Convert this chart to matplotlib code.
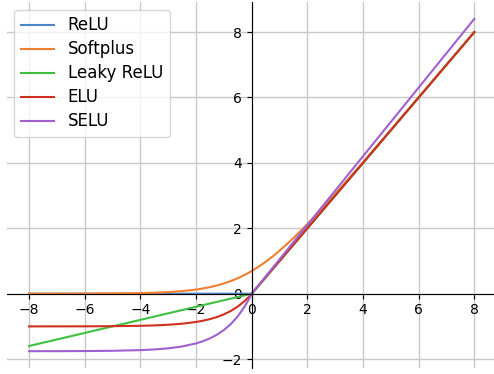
import matplotlib
matplotlib.use("Agg")
import matplotlib.pyplot as plt

# sample points
x = [-8, -7, -6, -5, -4, -3.5, -3, -2.5, -2, -1.75, -1.5, -1.25, -1, -0.75, -0.5, -0.25, -0.1, 0,
     0.25, 0.5, 0.75, 1, 1.5, 2, 2.5, 3, 4, 5, 6, 7, 8]

relu = [0, 0, 0, 0, 0, 0, 0, 0, 0, 0, 0, 0, 0, 0, 0, 0, 0, 0,
        0.25, 0.5, 0.75, 1, 1.5, 2, 2.5, 3, 4, 5, 6, 7, 8]
softplus = [0.0003, 0.0009, 0.0025, 0.0067, 0.018, 0.030, 0.049, 0.079, 0.127, 0.160,
            0.201, 0.252, 0.313, 0.386, 0.474, 0.576, 0.644, 0.693,
            0.826, 0.974, 1.136, 1.313, 1.701, 2.127, 2.579, 3.049, 4.018, 5.007, 6.002,
            7.001, 8.0]
leaky_relu = [-1.6, -1.4, -1.2, -1.0, -0.8, -0.7, -0.6, -0.5, -0.4, -0.35, -0.3, -0.25,
              -0.2, -0.15, -0.1, -0.05, -0.02, 0,
              0.25, 0.5, 0.75, 1, 1.5, 2, 2.5, 3, 4, 5, 6, 7, 8]
elu = [-1.0, -0.999, -0.998, -0.993, -0.982, -0.970, -0.95, -0.918, -0.865, -0.826,
       -0.777, -0.714, -0.632, -0.528, -0.394, -0.221, -0.095, 0,
       0.25, 0.5, 0.75, 1, 1.5, 2, 2.5, 3, 4, 5, 6, 7, 8]
selu = [-1.758, -1.757, -1.754, -1.746, -1.726, -1.705, -1.671, -1.614, -1.52, -1.453,
        -1.366, -1.254, -1.111, -0.928, -0.692, -0.389, -0.167, 0,
        0.263, 0.525, 0.788, 1.051, 1.576, 2.101, 2.627, 3.152, 4.203, 5.254, 6.304,
        7.355, 8.406]

labels = ["ReLU", "Softplus", "Leaky ReLU", "ELU", "SELU"]
series = [relu, softplus, leaky_relu, elu, selu]
colors = ["#4a86c8", "#f08030", "#40c040", "#d03020", "#a060d0"]

fig = plt.figure(figsize=(4.94, 3.74), dpi=100)
ax = fig.add_axes([6.8 / 494, 6.2 / 374, 489.8 / 494, 365.6 / 374])

for ys, lab, c in zip(series, labels, colors):
    ax.plot(x, ys, color=c, lw=1.5, label=lab)

ax.spines["left"].set_position("zero")
ax.spines["bottom"].set_position("zero")
ax.spines["right"].set_visible(False)
ax.spines["top"].set_visible(False)
ax.xaxis.set_ticks_position("bottom")
ax.yaxis.set_ticks_position("left")
ax.set_xticks([-8, -6, -4, -2, 0, 2, 4, 6, 8])
ax.set_yticks([-2, 0, 2, 4, 6, 8])
ax.tick_params(labelsize=10)
ax.grid(True, color="#c8c8c8", lw=1.0)

ax.legend(loc="upper left", fontsize=12, labelspacing=0.36,
          bbox_to_anchor=(0.0, 1.0), borderaxespad=0.45)

fig.savefig("out.png", dpi=100)
